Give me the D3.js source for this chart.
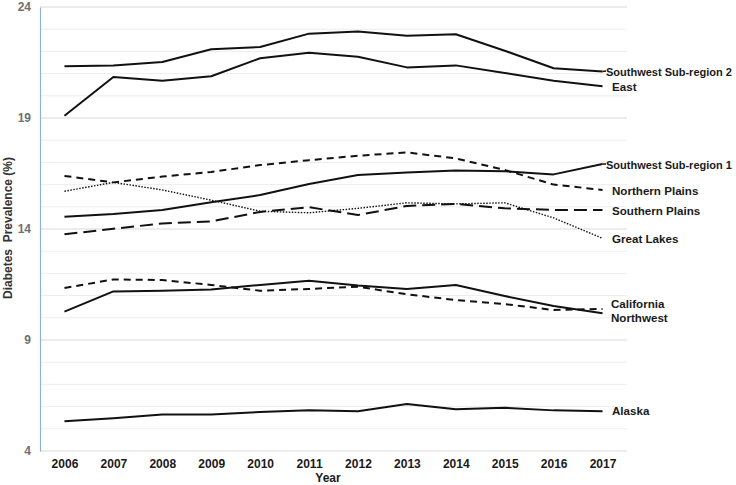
<!DOCTYPE html>
<html><head><meta charset="utf-8">
<script src="https://cdn.jsdelivr.net/npm/d3@7"></script>
<style>body{margin:0;background:#fff}svg{display:block;font-family:"Liberation Sans",Arial,sans-serif}</style>
</head><body><svg id="c" width="736" height="485"></svg>
<script>
const years = [2006,2007,2008,2009,2010,2011,2012,2013,2014,2015,2016,2017];
const yTicks = [4,9,14,19,24];
const swSub2   = [21.33,21.37,21.52,22.1,22.2,22.8,22.9,22.7,22.77,22.03,21.24,21.1];
const east     = [19.1,20.85,20.68,20.88,21.69,21.94,21.76,21.28,21.37,21.03,20.68,20.43];
const swSub1   = [14.55,14.68,14.86,15.2,15.53,16.03,16.43,16.54,16.63,16.6,16.46,16.93];
const nPlains  = [16.39,16.1,16.36,16.57,16.88,17.1,17.3,17.45,17.18,16.66,16.0,15.76];
const sPlains  = [13.76,14.01,14.25,14.34,14.77,14.98,14.63,15.04,15.13,14.93,14.86,14.86];
const gLakes   = [15.7,16.1,15.76,15.3,14.8,14.73,14.93,15.18,15.13,15.18,14.5,13.58];
const california = [11.34,11.73,11.7,11.48,11.22,11.3,11.4,11.06,10.8,10.62,10.35,10.4];
const northwest  = [10.28,11.19,11.22,11.27,11.48,11.67,11.45,11.3,11.48,10.98,10.53,10.2];
const alaska     = [5.34,5.47,5.64,5.64,5.76,5.83,5.79,6.12,5.88,5.95,5.83,5.79];

const series = [
  {name:"Southwest Sub-region 2", v:swSub2, dash:null, lx:606, ly:72, lead:true, fs:11},
  {name:"East", v:east, dash:null, lx:612, ly:87},
  {name:"Southwest Sub-region 1", v:swSub1, dash:null, lx:606, ly:165, lead:true, fs:11},
  {name:"Northern Plains", v:nPlains, dash:"7,5", lx:612, ly:191},
  {name:"Southern Plains", v:sPlains, dash:"13,6", lx:612, ly:211},
  {name:"Great Lakes", v:gLakes, dash:"1.5,1.5", lx:612, ly:239, thin:true},
  {name:"California", v:california, dash:"7,5", lx:611, ly:304},
  {name:"Northwest", v:northwest, dash:null, lx:611, ly:318},
  {name:"Alaska", v:alaska, dash:null, lx:612, ly:411}
];

const svg = d3.select("#c");
const L = 40, R = 627, T = 7, B = 451;
const x = d3.scalePoint().domain(years).range([L, R]).padding(0.5);
const y = d3.scaleLinear().domain([4,24]).range([B, T]);

// gridlines
const g = svg.append("g");
d3.range(5,25).forEach(v=>{
  g.append("line").attr("x1",L).attr("x2",R).attr("y1",y(v)).attr("y2",y(v))
   .attr("stroke", (v-4)%5===0 ? "#d9d9d9" : "#ededed").attr("stroke-width",1);
});
g.append("line").attr("x1",L).attr("x2",R).attr("y1",y(4)).attr("y2",y(4)).attr("stroke","#d9d9d9");

// y axis
const ya = svg.append("g").attr("transform",`translate(${L},0)`)
  .call(d3.axisLeft(y).tickValues(yTicks).tickSize(0).tickPadding(9));
ya.select(".domain").attr("stroke","#8fb0d8").attr("stroke-width",1.2);
ya.selectAll("text").attr("font-size",12).attr("font-weight","bold").attr("fill","#707070")
  .attr("font-family","Liberation Sans, Arial, sans-serif");

// x axis
const xa = svg.append("g").attr("transform",`translate(0,${B})`)
  .call(d3.axisBottom(x).tickSize(0).tickPadding(8));
xa.select(".domain").remove();
xa.selectAll("text").attr("font-size",12).attr("font-weight","bold").attr("fill","#1a1a1a")
  .attr("font-family","Liberation Sans, Arial, sans-serif");

svg.append("text").attr("x",328).attr("y",482).attr("text-anchor","middle")
  .attr("font-size",12).attr("font-weight","bold").attr("fill","#1a1a1a").text("Year");
svg.append("text").attr("transform","translate(12,228) rotate(-90)").attr("text-anchor","middle")
  .attr("font-size",12).attr("font-weight","bold").attr("fill","#333")
  .style("white-space","pre").text("Diabetes  Prevalence (%)");

const line = d3.line().x((d,i)=>x(years[i])).y(d=>y(d));
series.forEach(s=>{
  svg.append("path").attr("d",line(s.v)).attr("fill","none").attr("stroke","#111")
    .attr("stroke-width", s.thin?1.4:2).attr("stroke-dasharray", s.dash)
    .attr("stroke-linejoin","round");
  if (s.lead) {
    svg.append("line").attr("x1",x(2017)).attr("x2",s.lx).attr("y1",y(s.v[11])).attr("y2",s.ly-1)
      .attr("stroke","#111").attr("stroke-width",1.5);
  }
  svg.append("text").attr("x",s.lx).attr("y",s.ly).attr("dy","0.35em")
    .attr("font-size",s.fs||11.6).attr("font-weight","bold").attr("fill","#1a1a1a").text(s.name);
});
</script></body></html>
